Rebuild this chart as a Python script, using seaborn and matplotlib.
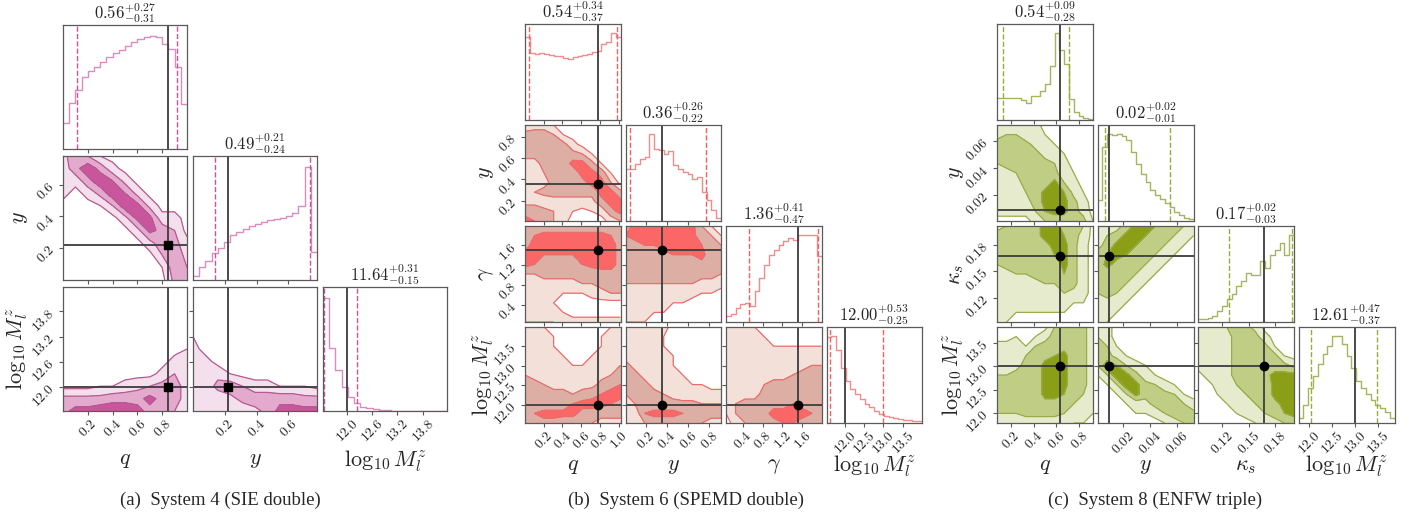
import numpy as np
import pandas as pd
import matplotlib
matplotlib.use("Agg")
import matplotlib.pyplot as plt
import seaborn as sns

# ======================= DATA =======================
LBL = {"q": r"$q$", "y": r"$y$", "g": r"$\gamma$", "k": r"$\kappa_s$", "M": r"$\log_{10}M_l^z$"}

# ---- (a) System 4 (SIE double) ----
A_PARAMS = ["q", "y", "M"]
A_RANGES = [(0.0, 1.0), (0.0, 0.78), (11.43, 14.38)]
A_TRUTH = [0.85, 0.22, 12.0]
A_QUANT = [(0.11, 0.92), (0.137, 0.736), (11.45, 12.24)]
A_TITLES = [(0.56, 0.27, 0.31), (0.49, 0.21, 0.24), (11.64, 0.31, 0.15)]
A_TICKS = [[0.2, 0.4, 0.6, 0.8], [0.2, 0.4, 0.6], [12.0, 12.6, 13.2, 13.8]]
A_FMT = ["{:.1f}", "{:.1f}", "{:.1f}"]
A_HIST_Q = [77, 139, 179, 217, 234, 247, 262, 277, 290, 300, 312, 322, 332, 338, 340, 337, 317, 302, 247, 135]
A_HIST_Y = [12, 40, 58, 80, 98, 115, 135, 145, 155, 162, 170, 175, 180, 184, 188, 192, 202, 222, 340, 85]
A_HIST_M = [338, 188, 123, 73, 43, 23, 13, 8, 5, 3, 2, 1, 1, 1, 0, 0, 0, 0, 0, 0]
# density-level grids (top row = top of panel), 0 none, 1-3 light, 4-6 mid, 7-9 dark
A_QY = ["36410000000", "26962000000", "22697300000", "20259730000", "00014983000", "00000388220",
        "00000038640", "00000003652", "00000000463", "00000000164", "00000000055"]
A_QM = ["00000000000", "00000000000", "00000000000", "00000000000", "00000000000", "00000000001",
        "00000000022", "00000000243", "00011234553", "55556668653", "68899986543"]
A_YM = ["00000000000", "00000000000", "00000000000", "00000000000", "10000000000", "20000000000",
        "22000000000", "22310000000", "22564221110", "22235666655", "22222358888"]

# ---- (b) System 6 (SPEMD double) ----
B_PARAMS = ["q", "y", "g", "M"]
B_RANGES = [(0.0, 1.02), (0.01, 0.91), (0.06, 1.99), (11.53, 14.0)]
B_TRUTH = [0.78, 0.355, 1.51, 12.0]
B_QUANT = [(0.04, 0.985), (0.05, 0.764), (0.52, 1.92), (11.61, 12.99)]
B_TITLES = [(0.54, 0.34, 0.37), (0.36, 0.26, 0.22), (1.36, 0.41, 0.47), (12.00, 0.53, 0.25)]
B_TICKS = [[0.2, 0.4, 0.6, 0.8, 1.0], [0.2, 0.4, 0.6, 0.8], [0.4, 0.8, 1.2, 1.6], [12.0, 12.5, 13.0, 13.5]]
B_FMT = ["{:.1f}", "{:.1f}", "{:.1f}", "{:.1f}"]
B_HIST_Q = [245, 197, 195, 197, 194, 193, 190, 188, 182, 180, 185, 188, 192, 196, 200, 205, 225, 232, 258, 245]
B_HIST_Y = [157, 157, 172, 187, 192, 262, 217, 214, 202, 210, 167, 157, 147, 142, 127, 132, 87, 62, 32, 8]
B_HIST_G = [18, 25, 43, 53, 58, 48, 93, 133, 173, 203, 218, 233, 243, 253, 248, 263, 263, 263, 261, 200]
B_HIST_M = [260, 264, 222, 167, 127, 102, 87, 72, 57, 47, 35, 27, 22, 17, 15, 12, 10, 8, 6, 5]
B_QY = ["23310000000", "55541000000", "55555200000", "55555541000", "33555885100", "22455588610",
        "23355568840", "44555555885", "33233333688", "66542101268", "87542000024"]
B_QG = ["55555555555", "57888888875", "68888888886", "88777788886", "87555678886", "44555555665",
        "33333344555", "22221112344", "22210000000", "22221000000", "11112222222"]
B_YG = ["58888888410", "78888888541", "56778888754", "55556777855", "55555555655", "55555555554",
        "44444444332", "33322222110", "22222110000", "22211000000", "11110000000"]
B_QM = ["21100000112", "22210000122", "22210000122", "22221001222", "22222112234", "43222222345",
        "55433333567", "55555456788", "55555788876", "67888866555", "56665554333"]
B_YM = ["22222000000", "22221000000", "22221000000", "32222100000", "53222100000", "55322210000",
        "55532221100", "45554322222", "34555555444", "22788876655", "22455555433"]
B_GM = ["22210000000", "22221000000", "22222111111", "22222222222", "22222222344", "22223334555",
        "22224555555", "23335555555", "14555667665", "14556888875", "02455677654"]

# ---- (c) System 8 (ENFW triple) ----
C_PARAMS = ["q", "y", "k", "M"]
C_RANGES = [(0.08, 0.92), (0.001, 0.072), (0.093, 0.201), (11.78, 13.85)]
C_TRUTH = [0.63, 0.0095, 0.167, 13.0]
C_QUANT = [(0.13, 0.71), (0.0069, 0.0544), (0.128, 0.199), (12.05, 13.47)]
C_TITLES = [(0.54, 0.09, 0.28), (0.02, 0.02, 0.01), (0.17, 0.02, 0.03), (12.61, 0.47, 0.37)]
C_TICKS = [[0.2, 0.4, 0.6, 0.8], [0.02, 0.04, 0.06], [0.12, 0.15, 0.18], [12.0, 12.5, 13.0, 13.5]]
C_FMT = ["{:.1f}", "{:.2f}", "{:.2f}", "{:.1f}"]
C_HIST_Q = [64, 64, 66, 66, 64, 60, 50, 70, 72, 85, 105, 160, 257, 207, 165, 62, 25, 12, 6, 3]
C_HIST_Y = [62, 222, 262, 257, 262, 254, 242, 207, 172, 142, 117, 92, 77, 67, 54, 42, 27, 17, 10, 5]
C_HIST_K = [8, 8, 13, 18, 33, 48, 68, 83, 108, 123, 148, 143, 143, 183, 163, 203, 218, 238, 203, 263]
C_HIST_M = [15, 55, 105, 140, 175, 205, 230, 260, 260, 235, 200, 165, 125, 105, 87, 70, 55, 45, 33, 15]
C_QY = ["22222000000", "34422100000", "55553210000", "55555321000", "45555542000", "23455552100",
        "22355584200", "42245887310", "22235888520", "22224788530", "00002455551"]
C_QK = ["34556886540", "55556887530", "55555688520", "55555578520", "45555558520", "23445557520",
        "22233445520", "22222224320", "22222222110", "22111111100", "21000000000"]
C_QM = ["00000045552", "00101355552", "22214556552", "22245678552", "22355888552", "44555888552",
        "55555888552", "55555887542", "55555665432", "44455554221", "22222222110"]
C_YK = ["22358875542", "24588755421", "35887554210", "57875542100", "58655421000", "55554210000",
        "55542100000", "45421000000", "23210000000", "22100000000", "21000000000"]
C_YM = ["22000000000", "42000000000", "54100000000", "55310000000", "49742100000", "14985210000",
        "01498542100", "00148555410", "00012355542", "00001124555", "00000001345"]
C_KM = ["22245530000", "22235552000", "22235555100", "22235555510", "22235555553", "02235556888",
        "00224555888", "00122455888", "00012245688", "00001224578", "00000012345"]

CAPTIONS = ["(a)  System 4 (SIE double)", "(b)  System 6 (SPEMD double)", "(c)  System 8 (ENFW triple)"]

# ======================= STYLE =======================
sns.set_theme(style="ticks")
plt.rcParams["font.family"] = ["DejaVu Serif"]
plt.rcParams["mathtext.fontset"] = "cm"

W, H = 1413, 514
fig = plt.figure(figsize=(W / 100, H / 100), dpi=100)
fig.patch.set_facecolor("white")

TRUTH_C = "#3c3c3c"
SPINE_C = "#5a5a5a"


def grid_of(rows):
    return np.array([[float(c) for c in r] for r in rows[::-1]])


def corner(params, ranges, hists, grids, truths, quants, titles, ticks, fmts,
           cols, rows, cw, ch, pal, marker, lab_off):
    n = len(params)
    fills, lcol, hcol, qcol = pal
    for i in range(n):
        for j in range(i + 1):
            ax = fig.add_axes([cols[j] / W, 1 - (rows[i] + ch) / H, cw / W, ch / H])
            for s in ax.spines.values():
                s.set_color(SPINE_C)
                s.set_linewidth(0.9)
            xlo, xhi = ranges[j]
            if i == j:
                hv = hists[i]
                edges = np.linspace(xlo, xhi, len(hv) + 1)
                df = pd.DataFrame({"v": 0.5 * (edges[1:] + edges[:-1]), "w": hv})
                sns.histplot(data=df, x="v", weights="w", bins=list(edges), element="step",
                             fill=False, color=hcol, linewidth=1.0, ax=ax)
                ax.set_ylim(0, 1.1 * max(hv))
                for qv in quants[i]:
                    ax.axvline(qv, color=qcol, ls="--", lw=1.0)
                ax.axvline(truths[i], color=TRUTH_C, lw=1.3)
                ax.set_yticks([])
                ax.set_ylabel("")
                m, p, mn = titles[i]
                ax.set_title(r"$%.2f^{+%.2f}_{-%.2f}$" % (m, p, mn), fontsize=12, pad=1.5)
            else:
                ylo, yhi = ranges[i]
                Z = grid_of(grids[(i, j)])
                X = np.linspace(xlo, xhi, Z.shape[1])
                Y = np.linspace(ylo, yhi, Z.shape[0])
                ax.contourf(X, Y, Z, levels=[1, 4, 7, 10], colors=fills)
                ax.contour(X, Y, Z, levels=[1, 4, 7], colors=[lcol], linewidths=0.9)
                ax.axvline(truths[j], color=TRUTH_C, lw=1.3)
                ax.axhline(truths[i], color=TRUTH_C, lw=1.3)
                ax.plot([truths[j]], [truths[i]], marker, color="black", ms=6)
                ax.set_ylim(ylo, yhi)
                ax.set_yticks(ticks[i])
                if j == 0:
                    ax.set_yticklabels(["$" + fmts[i].format(t) + "$" for t in ticks[i]],
                                       fontsize=10, rotation=45)
                    ax.set_ylabel(LBL[params[i]], fontsize=16)
                    ax.yaxis.set_label_coords(-lab_off[1], 0.5)
                else:
                    ax.set_yticklabels([])
            ax.set_xlim(xlo, xhi)
            ax.set_xticks(ticks[j])
            if i == n - 1:
                ax.set_xticklabels(["$" + fmts[j].format(t) + "$" for t in ticks[j]],
                                   fontsize=10, rotation=45)
                ax.set_xlabel(LBL[params[j]], fontsize=16)
                ax.xaxis.set_label_coords(0.5, -lab_off[0])
            else:
                ax.set_xticklabels([])
                ax.set_xlabel("")
            ax.tick_params(direction="out", length=3, width=0.8, color=SPINE_C, pad=1)


PAL_A = (["#f4dfec", "#e4aacd", "#c9569c"], "#b55a92", "#d98cbd", "#c8559b")
PAL_B = (["#f3e0d9", "#dcaea4", "#fb6767"], "#e86e6e", "#f28c8c", "#f06262")
PAL_C = (["#e7ebcd", "#c0cd84", "#8b9f16"], "#9aab4c", "#a5b55e", "#9aab3a")

corner(A_PARAMS, A_RANGES, [A_HIST_Q, A_HIST_Y, A_HIST_M],
       {(1, 0): A_QY, (2, 0): A_QM, (2, 1): A_YM},
       A_TRUTH, A_QUANT, A_TITLES, A_TICKS, A_FMT,
       [63, 193, 323], [25, 156, 287], 124, 124, PAL_A, "s", (0.30, 0.27))

corner(B_PARAMS, B_RANGES, [B_HIST_Q, B_HIST_Y, B_HIST_G, B_HIST_M],
       {(1, 0): B_QY, (2, 0): B_QG, (2, 1): B_YG, (3, 0): B_QM, (3, 1): B_YM, (3, 2): B_GM},
       B_TRUTH, B_QUANT, B_TITLES, B_TICKS, B_FMT,
       [525, 625.5, 726, 826.5], [24, 125, 226, 327], 95.5, 96, PAL_B, "o", (0.32, 0.30))

corner(C_PARAMS, C_RANGES, [C_HIST_Q, C_HIST_Y, C_HIST_K, C_HIST_M],
       {(1, 0): C_QY, (2, 0): C_QK, (2, 1): C_YK, (3, 0): C_QM, (3, 1): C_YM, (3, 2): C_KM},
       C_TRUTH, C_QUANT, C_TITLES, C_TICKS, C_FMT,
       [997, 1097.5, 1198, 1298.5], [24, 125, 226, 327], 96, 96, PAL_C, "o", (0.32, 0.32))

for xc, txt in zip([220, 686, 1155], CAPTIONS):
    fig.text(xc / W, 1 - 500 / H, txt, ha="center", va="center", fontsize=13.5,
             family=["Liberation Serif", "DejaVu Serif"])

fig.savefig("out.png", dpi=100, facecolor="white")
